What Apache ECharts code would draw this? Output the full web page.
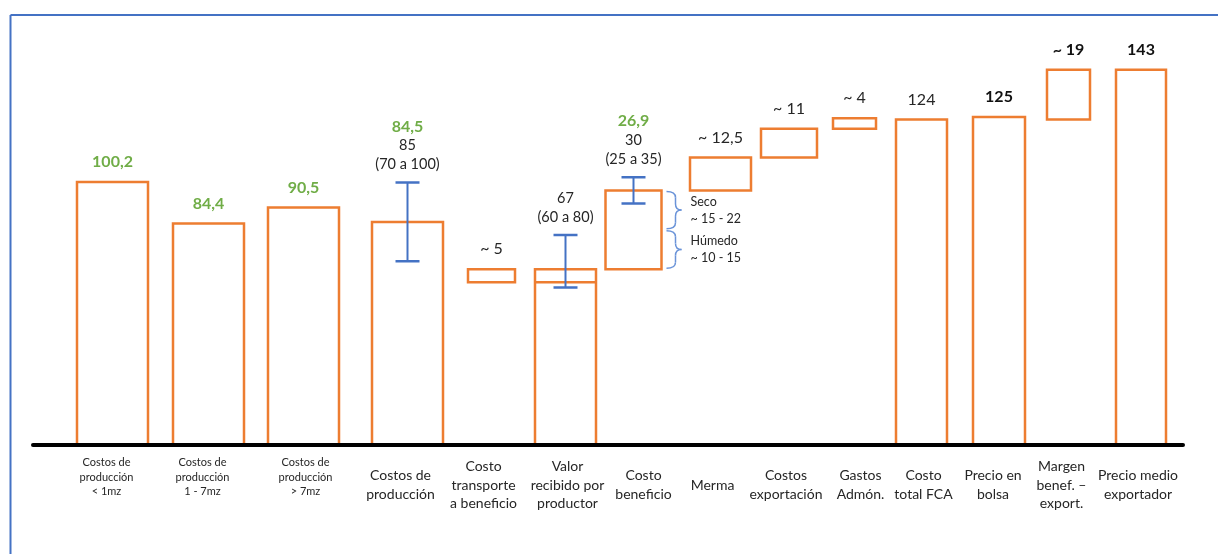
<!DOCTYPE html>
<html>
<head>
<meta charset="utf-8">
<title>Cadena de valor del café</title>
<script src="https://cdn.jsdelivr.net/npm/echarts@6/dist/echarts.min.js"></script>
<style>
  html, body { margin: 0; padding: 0; background: #ffffff; }
  #chart { width: 1218px; height: 554px; }
</style>
</head>
<body>
<div id="chart"></div>
<script>
// ---- Data -------------------------------------------------------------
const categories = [
  'Costos de\nproducción\n< 1mz',
  'Costos de\nproducción\n1 - 7mz',
  'Costos de\nproducción\n> 7mz',
  'Costos de\nproducción',
  'Costo\ntransporte\na beneficio',
  'Valor\nrecibido por\nproductor',
  'Costo\nbeneficio',
  'Merma',
  'Costos\nexportación',
  'Gastos\nAdmón.',
  'Costo\ntotal FCA',
  'Precio en\nbolsa',
  'Margen\nbenef. –\nexport.',
  'Precio medio\nexportador'
];
// where each box starts (floating steps) and how tall it is
const barBase  = [0, 0, 0, 0, 62, 0, 67, 97, 109.5, 120.5, 0, 0, 124, 0];
const barValue = [100.2, 84.4, 90.5, 85, 5, 67, 30, 12.5, 11, 4, 124, 125, 19, 143];
// values shown with "~"
const approx   = [false, false, false, false, true, false, false, true, true, true, false, false, true, false];
// weighted estimate shown in green above a range
const estimate = [null, null, null, 84.5, null, null, 26.9, null, null, null, null, null, null, null];
// stated ranges (drawn as error bars on top of the box base)
const rangeLow  = [null, null, null, 70, null, 60, 25, null, null, null, null, null, null, null];
const rangeHigh = [null, null, null, 100, null, 80, 35, null, null, null, null, null, null, null];
// inner split line inside "Valor recibido por productor"
const dividerAt = [null, null, null, null, null, 62, null, null, null, null, null, null, null, null];
// processing cost breakdown for "Costo beneficio"
const partBar    = 6;
const partNames  = ['Húmedo', 'Seco'];
const partRanges = ['~ 10 - 15', '~ 15 - 22'];
const partSizes  = [15, 15];

// ---- Layout & styles -----------------------------------------------------
const slotCenter = [79.5, 175.5, 270.5, 374.5, 458.5, 532.5, 600.5, 687.5, 756, 821.5, 888.5, 966, 1035.5, 1108];
const slotWidth  = [71, 71, 71, 71, 47, 61, 56, 61, 56, 43, 51, 52, 43, 50];
const catShift   = [-6, -6, 2, -7, -8, 2, 10, -8, -3, 6, 2, -6, -7, -3];
const catSmall   = [true, true, true, false, false, false, false, false, false, false, false, false, false, false];
const labelKind  = ['green', 'green', 'green', 'range', 'plain', 'range', 'range', 'plain', 'plain', 'plain', 'plain', 'bold', 'bold', 'bold'];

const ORANGE = '#ED7D31';
const BLUE = '#4472C4';
const BRACE = '#6A93D8';
const GREEN = '#70AD47';
const TEXT = '#262626';
const FONT = 'Lato, "Open Sans", sans-serif';

function fmt(v) { return String(v).replace('.', ','); }

function text(str, x, y, opts) {
  const o = opts || {};
  return {
    type: 'text',
    z2: 10,
    style: {
      text: str, x: x, y: y,
      fill: o.fill || TEXT,
      font: (o.weight || 'normal') + ' ' + (o.size || 16) + 'px ' + FONT,
      align: o.align || 'center', verticalAlign: 'middle',
      textAlign: o.align || 'center', textVerticalAlign: 'middle',
      lineHeight: o.lineHeight || Math.round((o.size || 16) * 1.3)
    }
  };
}

function line(x1, y1, x2, y2, color, width) {
  return { type: 'line', shape: { x1: x1, y1: y1, x2: x2, y2: y2 },
           style: { stroke: color, lineWidth: width } };
}

function curve(x1, y1, cx, cy, x2, y2) {
  return { type: 'bezierCurve', shape: { x1: x1, y1: y1, cpx1: cx, cpy1: cy, x2: x2, y2: y2 },
           style: { stroke: BRACE, lineWidth: 1.5, fill: 'none' } };
}

function brace(x0, yt, yb) {
  const x1 = x0 + 9, xp = x0 + 15, ym = (yt + yb) / 2, r = 6;
  return [
    curve(x0, yt, x1, yt, x1, yt + r),
    line(x1, yt + r, x1, ym - r, BRACE, 1.5),
    curve(x1, ym - r, x1, ym, xp, ym),
    curve(xp, ym, x1, ym, x1, ym + r),
    line(x1, ym + r, x1, yb - r, BRACE, 1.5),
    curve(x1, yb - r, x1, yb, x0, yb)
  ];
}

function renderItem(params, api) {
  const i = api.value(0);
  const xc = api.coord([slotCenter[i], 0])[0];
  const w = api.size([slotWidth[i], 0])[0];
  const yBase0 = api.coord([0, 0])[1];
  const yTop = api.coord([0, barBase[i] + barValue[i]])[1];
  const yBot = api.coord([0, barBase[i]])[1];
  const children = [];

  children.push({
    type: 'rect',
    shape: { x: xc - w / 2, y: yTop, width: w, height: yBot - yTop },
    style: { fill: 'none', stroke: ORANGE, lineWidth: 2.5 }
  });

  if (dividerAt[i] != null) {
    const yd = api.coord([0, dividerAt[i]])[1];
    children.push(line(xc - w / 2, yd, xc + w / 2, yd, ORANGE, 2.5));
  }

  let anchor = yTop;
  if (rangeLow[i] != null) {
    const yl = api.coord([0, barBase[i] + rangeLow[i]])[1];
    const yh = api.coord([0, barBase[i] + rangeHigh[i]])[1];
    const cap = 12;
    children.push(line(xc, yl, xc, yh, BLUE, 2));
    children.push(line(xc - cap, yl, xc + cap, yl, BLUE, 2.5));
    children.push(line(xc - cap, yh, xc + cap, yh, BLUE, 2.5));
    anchor = Math.min(anchor, yh);
  }

  // value labels above the box
  const kind = labelKind[i];
  let y = anchor - 18;
  if (kind === 'range') {
    children.push(text('(' + fmt(rangeLow[i]) + ' a ' + fmt(rangeHigh[i]) + ')', xc, y, { size: 14.5 }));
    y -= 19;
    children.push(text(fmt(barValue[i]), xc, y, { size: 14.5 }));
    if (estimate[i] != null) {
      y -= 19;
      children.push(text(fmt(estimate[i]), xc, y, { size: 16, weight: 'bold', fill: GREEN }));
    }
  } else {
    const label = (approx[i] ? '~ ' : '') + fmt(barValue[i]);
    const opts = { size: 16 };
    if (kind === 'green') { opts.weight = 'bold'; opts.fill = GREEN; }
    if (kind === 'bold') { opts.weight = 'bold'; opts.fill = '#111111'; }
    children.push(text(label, xc, y - 2, opts));
  }

  // category name under the baseline
  if (catSmall[i]) {
    children.push(text(categories[i], xc + catShift[i], yBase0 + 32, { size: 11, lineHeight: 14.5 }));
  } else {
    children.push(text(categories[i], xc + catShift[i], yBase0 + 40, { size: 14, lineHeight: 18.5 }));
  }

  // breakdown braces beside "Costo beneficio"
  if (i === partBar) {
    let acc = barBase[i];
    const bx = xc + w / 2 + 5;
    for (let k = 0; k < partSizes.length; k++) {
      const yb = api.coord([0, acc])[1];
      const yt = api.coord([0, acc + partSizes[k]])[1];
      brace(bx, yt + 1, yb - 1).forEach(function (el) { children.push(el); });
      children.push(text(partNames[k] + '\n' + partRanges[k], bx + 24, (yt + yb) / 2,
        { size: 12.5, align: 'left', lineHeight: 17 }));
      acc += partSizes[k];
    }
  }

  return { type: 'group', children: children };
}

const chart = echarts.init(document.getElementById('chart'), null, { renderer: 'canvas' });
chart.setOption({
  backgroundColor: '#ffffff',
  animation: false,
  grid: { left: 33, right: 35, top: 25, bottom: 109 },
  xAxis: {
    type: 'value', min: 0, max: 1150, z: 5,
    axisLine: { show: true, lineStyle: { color: '#000000', width: 4 } },
    axisTick: { show: false }, axisLabel: { show: false }, splitLine: { show: false }
  },
  yAxis: {
    type: 'value', min: 0, max: 160, show: false,
    splitLine: { show: false }
  },
  graphic: [
    { type: 'line', shape: { x1: 10.5, y1: 15, x2: 1218, y2: 15 }, style: { stroke: BLUE, lineWidth: 2 } },
    { type: 'line', shape: { x1: 10.5, y1: 15, x2: 10.5, y2: 554 }, style: { stroke: BLUE, lineWidth: 2 } }
  ],
  series: [{
    type: 'custom',
    renderItem: renderItem,
    clip: false,
    data: categories.map(function (c, i) { return [i]; })
  }]
});
</script>
</body>
</html>
